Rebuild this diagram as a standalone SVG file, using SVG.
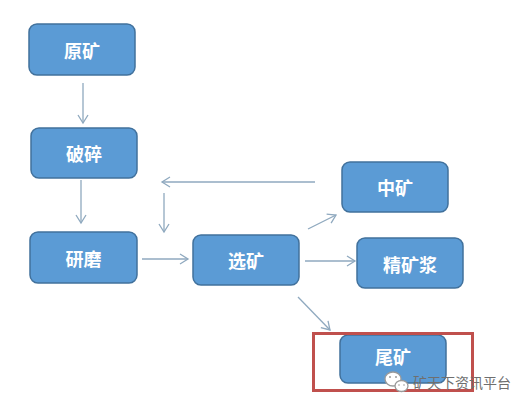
<svg xmlns="http://www.w3.org/2000/svg" width="522" height="406" viewBox="0 0 522 406">
<defs>
<style>
.box{fill:#5b9bd5;stroke:#41719c;stroke-width:1.5}
.lbl{font-family:"Noto Sans CJK SC","Noto Sans CJK JP",sans-serif;font-size:18px;font-weight:bold;fill:#ffffff;text-anchor:middle;dominant-baseline:central}
.con{stroke:#8fa9bf;stroke-width:1.3;fill:none;marker-end:url(#arr)}
.wm{font-family:"Noto Sans CJK SC",sans-serif;font-size:14px;fill:#6f6f6f;dominant-baseline:central}
</style>
<marker id="arr" markerUnits="userSpaceOnUse" markerWidth="12" markerHeight="12" refX="9" refY="6" orient="auto">
<path d="M1,1 L9,6 L1,11" fill="none" stroke="#8fa9bf" stroke-width="1.3"/>
</marker>
</defs>
<rect width="522" height="406" fill="#ffffff"/>
<g id="connectors">
<line class="con" x1="83" y1="83" x2="83" y2="123"/>
<line class="con" x1="81" y1="180" x2="81" y2="223"/>
<line class="con" x1="315" y1="182" x2="162" y2="182"/>
<line class="con" x1="164" y1="193" x2="164" y2="232"/>
<line class="con" x1="142" y1="259" x2="188" y2="259"/>
<line class="con" x1="308" y1="229" x2="336" y2="215"/>
<line class="con" x1="305" y1="261" x2="355" y2="261"/>
<line class="con" x1="298" y1="297" x2="330" y2="330"/>
</g>
<g id="n-yuankuang"><rect class="box" x="29" y="24" width="106" height="51" rx="8"/><text class="lbl" x="82" y="49.5">原矿</text></g>
<g id="n-posui"><rect class="box" x="31" y="128" width="106" height="50" rx="8"/><text class="lbl" x="84" y="153">破碎</text></g>
<g id="n-yanmo"><rect class="box" x="30" y="232" width="107" height="51" rx="8"/><text class="lbl" x="83.5" y="257.5">研磨</text></g>
<g id="n-xuankuang"><rect class="box" x="193" y="235" width="106" height="50" rx="8"/><text class="lbl" x="246" y="260">选矿</text></g>
<g id="n-zhongkuang"><rect class="box" x="342" y="162" width="106" height="50" rx="8"/><text class="lbl" x="395" y="187">中矿</text></g>
<g id="n-jingkuangjiang"><rect class="box" x="357" y="238" width="106" height="50" rx="8"/><text class="lbl" x="410" y="264">精矿浆</text></g>
<g id="n-weikuang"><rect class="box" x="340" y="335" width="106" height="48" rx="8"/><text class="lbl" x="393" y="356">尾矿</text></g>
<rect id="highlight" x="313.5" y="333.5" width="159" height="57" fill="none" stroke="#c0504d" stroke-width="3"/>
<g id="watermark">
<ellipse cx="393" cy="379" rx="8" ry="7" fill="#ffffff" stroke="#9a9a9a" stroke-width="1.3"/>
<ellipse cx="401.5" cy="386" rx="6.5" ry="5.5" fill="#ffffff" stroke="#9a9a9a" stroke-width="1.3"/>
<circle cx="390" cy="377" r="1" fill="#9a9a9a"/>
<circle cx="396" cy="377" r="1" fill="#9a9a9a"/>
<circle cx="399" cy="385" r="0.8" fill="#9a9a9a"/>
<circle cx="404" cy="385" r="0.8" fill="#9a9a9a"/>
<text class="wm" x="413" y="382">矿天下资讯平台</text>
</g>
</svg>
